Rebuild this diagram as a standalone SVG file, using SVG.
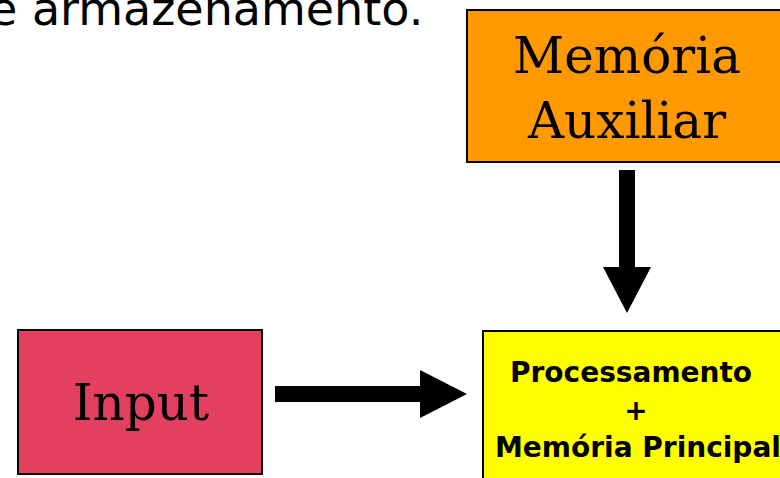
<svg xmlns="http://www.w3.org/2000/svg" width="780" height="478" viewBox="0 0 780 478">
<style>
.box{stroke:#000;stroke-width:2}
.serif{font-family:"DejaVu Serif",serif;font-size:50px;fill:#000;text-anchor:middle}
.bold{font-family:"DejaVu Sans",Verdana,sans-serif;font-size:28px;font-weight:bold;fill:#000}
.arrow{fill:#000}
</style>
<rect width="780" height="478" fill="#fff"/>
<text x="-11" y="25" font-family="DejaVu Sans, sans-serif" font-size="46" fill="#000">e armazenamento.</text>
<g id="memoria-auxiliar">
<rect class="box" x="467" y="10" width="320" height="152" fill="#FF9900"/>
<text class="serif" x="627" y="73">Memória</text>
<text class="serif" x="627" y="138">Auxiliar</text>
</g>
<g id="input">
<rect class="box" x="18" y="330" width="244" height="144" fill="#E34060"/>
<text class="serif" x="141" y="420">Input</text>
</g>
<g id="processamento">
<rect class="box" x="483" y="331" width="310" height="160" fill="#FFFF00"/>
<text class="bold" x="510" y="382">Processamento</text>
<text class="bold" x="636" y="420" text-anchor="middle">+</text>
<text class="bold" x="495" y="457">Memória Principal</text>
</g>
<g id="connectors">
<polygon class="arrow" points="619,170 635,170 635,267 651,267 627,313 603,267 619,267"/>
<polygon class="arrow" points="275,386 420,386 420,370 467,394 420,418 420,402 275,402"/>
</g>
</svg>
